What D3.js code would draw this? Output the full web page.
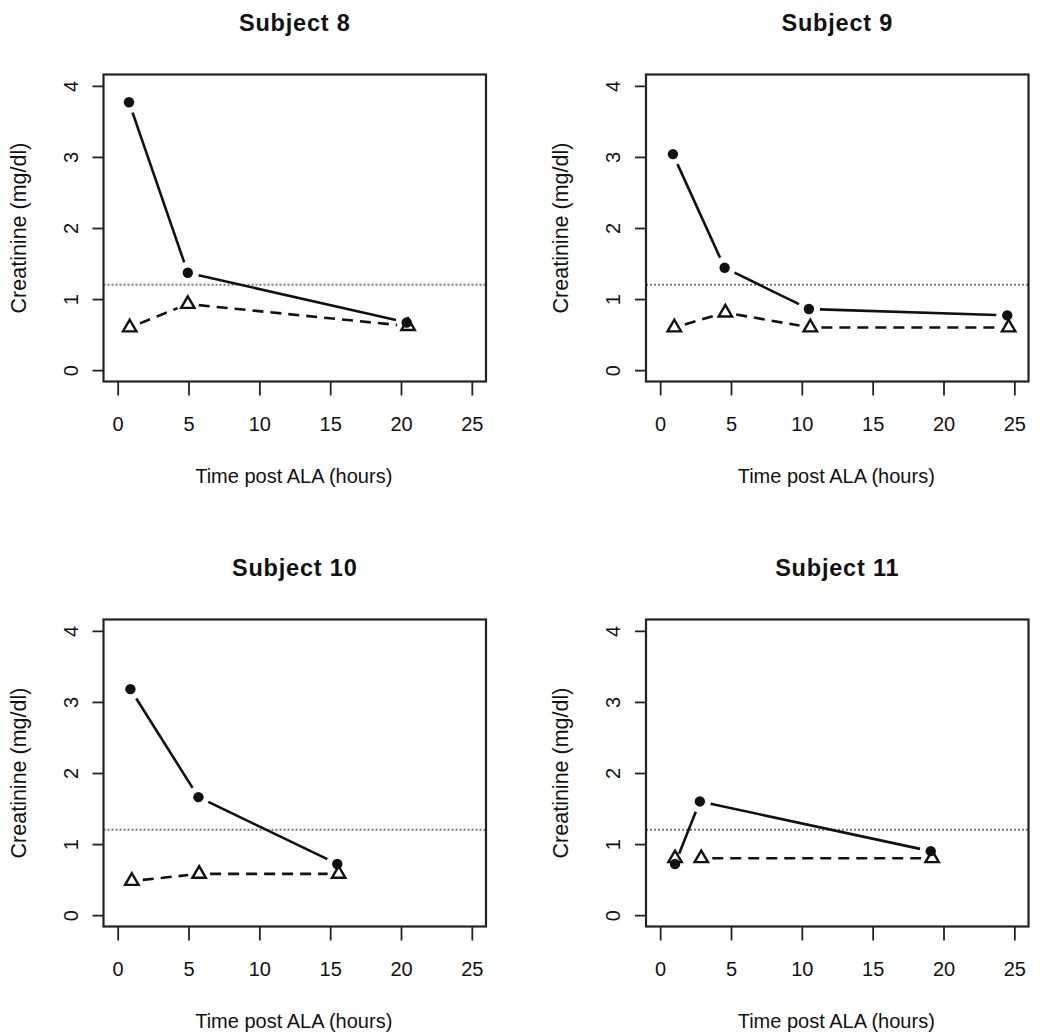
<!DOCTYPE html>
<html>
<head>
<meta charset="utf-8">
<script src="https://cdn.jsdelivr.net/npm/d3@7"></script>
<style>
  html, body { margin: 0; padding: 0; background: #fff; }
  svg { display: block; }
  text { font-family: "Liberation Sans", Arial, sans-serif; fill: #111; }
</style>
</head>
<body>
<svg id="chart" width="1050" height="1035"></svg>
<script>
// ---------- data ----------
const subjects = ["Subject 8", "Subject 9", "Subject 10", "Subject 11"];
// patient (filled circles, solid line)
const circleTimes = [
  [0.8, 4.95, 20.4],
  [0.9, 4.55, 10.5, 24.5],
  [0.9, 5.7, 15.5],
  [1.05, 2.8, 19.1]
];
const circleValues = [
  [3.77, 1.37, 0.67],
  [3.04, 1.44, 0.86, 0.77],
  [3.18, 1.66, 0.72],
  [0.72, 1.60, 0.90]
];
// comparison (open triangles, dashed line)
const triangleTimes = [
  [0.85, 4.95, 20.5],
  [1.0, 4.6, 10.6, 24.6],
  [1.0, 5.75, 15.6],
  [1.05, 2.9, 19.2]
];
const triangleValues = [
  [0.60, 0.93, 0.62],
  [0.60, 0.81, 0.60, 0.60],
  [0.48, 0.58, 0.58],
  [0.80, 0.80, 0.80]
];
const xTicks = [0, 5, 10, 15, 20, 25];
const yTicks = [0, 1, 2, 3, 4];
const referenceLevel = 1.2;
const xLabel = "Time post ALA (hours)";
const yLabel = "Creatinine (mg/dl)";

// ---------- layout ----------
const svg = d3.select("#chart");
const boxes = [
  {l: 103.5, r: 486, t: 74.5, b: 381.5},
  {l: 646, r: 1028.5, t: 74.5, b: 381.5},
  {l: 103.5, r: 486, t: 619.5, b: 926.5},
  {l: 646, r: 1028.5, t: 619.5, b: 926.5}
];
const GAP = 11;

function gappedSegments(pts, minLen) {
  const segs = [];
  for (let i = 0; i < pts.length - 1; i++) {
    const [x1, y1] = pts[i], [x2, y2] = pts[i + 1];
    const dx = x2 - x1, dy = y2 - y1;
    const len = Math.hypot(dx, dy);
    if (len <= minLen) continue;
    const ux = dx / len, uy = dy / len;
    segs.push([[x1 + ux * GAP, y1 + uy * GAP], [x2 - ux * GAP, y2 - uy * GAP]]);
  }
  return segs;
}

subjects.forEach((name, i) => {
  const bx = boxes[i];
  const x = d3.scaleLinear().domain([-1, 26]).range([bx.l, bx.r]);
  const y = d3.scaleLinear().domain([-0.16, 4.16]).range([bx.b, bx.t]);
  const g = svg.append("g");

  // clip
  const clipId = "clip" + i;
  svg.append("clipPath").attr("id", clipId)
    .append("rect").attr("x", bx.l).attr("y", bx.t)
    .attr("width", bx.r - bx.l).attr("height", bx.b - bx.t);

  // title
  g.append("text")
    .attr("x", (bx.l + bx.r) / 2).attr("y", bx.t - 43.5)
    .attr("text-anchor", "middle")
    .attr("font-size", 23.5).attr("font-weight", "bold")
    .attr("letter-spacing", 0.8)
    .text(name);

  // axes
  const xAxis = d3.axisBottom(x).tickValues(xTicks).tickSize(14).tickPadding(21).tickFormat(d3.format("d"));
  const gx = g.append("g").attr("transform", `translate(0,${bx.b})`).call(xAxis);
  gx.select(".domain").remove();
  gx.selectAll("line").attr("stroke", "#222").attr("stroke-width", 1.8);
  gx.selectAll("text").attr("font-size", 20).attr("fill", "#222")
    .attr("font-family", "Liberation Sans, Arial, sans-serif");

  const yAxis = d3.axisLeft(y).tickValues(yTicks).tickSize(11).tickPadding(0).tickFormat(d3.format("d"));
  const gy = g.append("g").attr("transform", `translate(${bx.l},0)`).call(yAxis);
  gy.select(".domain").remove();
  gy.selectAll("line").attr("stroke", "#222").attr("stroke-width", 1.8);
  gy.selectAll("text")
    .attr("font-size", 20).attr("fill", "#222")
    .attr("font-family", "Liberation Sans, Arial, sans-serif")
    .attr("x", null).attr("dy", null)
    .attr("text-anchor", "middle")
    .attr("transform", `translate(-26,0) rotate(-90)`);

  // axis labels
  g.append("text")
    .attr("x", (bx.l + bx.r) / 2 - 1).attr("y", bx.b + 101)
    .attr("text-anchor", "middle").attr("font-size", 20).attr("fill", "#222")
    .text(xLabel);
  g.append("text")
    .attr("transform", `translate(${bx.l - 78},${(bx.t + bx.b) / 2}) rotate(-90)`)
    .attr("text-anchor", "middle").attr("font-size", 21.5).attr("fill", "#222")
    .text(yLabel);

  // reference dotted line
  g.append("line")
    .attr("clip-path", `url(#${clipId})`)
    .attr("x1", x(-1)).attr("x2", x(26))
    .attr("y1", y(referenceLevel)).attr("y2", y(referenceLevel))
    .attr("stroke", "#7a7a7a").attr("stroke-width", 2)
    .attr("stroke-dasharray", "2,2");

  // series
  const cPts = circleTimes[i].map((t, k) => [x(t), y(circleValues[i][k])]);
  const tPts = triangleTimes[i].map((t, k) => [x(t), y(triangleValues[i][k])]);

  g.selectAll(".tseg").data(gappedSegments(tPts, 2 * GAP + 8)).join("line")
    .attr("x1", d => d[0][0]).attr("y1", d => d[0][1])
    .attr("x2", d => d[1][0]).attr("y2", d => d[1][1])
    .attr("stroke", "#111").attr("stroke-width", 2.6)
    .attr("stroke-dasharray", "11,7");

  g.selectAll(".cseg").data(gappedSegments(cPts, 2 * GAP + 8)).join("line")
    .attr("x1", d => d[0][0]).attr("y1", d => d[0][1])
    .attr("x2", d => d[1][0]).attr("y2", d => d[1][1])
    .attr("stroke", "#111").attr("stroke-width", 2.6);

  const tri = d3.symbol().type(d3.symbolTriangle).size(78);
  g.selectAll(".tri").data(tPts).join("path")
    .attr("d", tri)
    .attr("transform", d => `translate(${d[0]},${d[1]})`)
    .attr("fill", "none").attr("stroke", "#111").attr("stroke-width", 2.4);

  g.selectAll(".dot").data(cPts).join("circle")
    .attr("cx", d => d[0]).attr("cy", d => d[1]).attr("r", 5.2)
    .attr("fill", "#111");

  // box
  g.append("rect")
    .attr("x", bx.l).attr("y", bx.t)
    .attr("width", bx.r - bx.l).attr("height", bx.b - bx.t)
    .attr("fill", "none").attr("stroke", "#222").attr("stroke-width", 2.2);
});
</script>
</body>
</html>
